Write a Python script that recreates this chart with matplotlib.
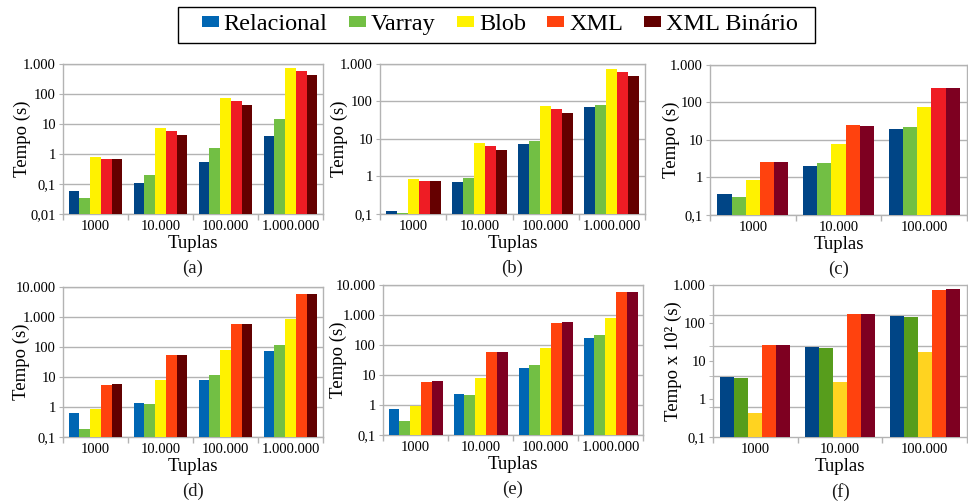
import matplotlib
matplotlib.use("Agg")
import matplotlib.pyplot as plt
import numpy as np
from matplotlib.patches import Patch, Rectangle
from matplotlib.ticker import FixedLocator, FuncFormatter, NullFormatter

FONTE = ["Liberation Serif", "DejaVu Serif"]
plt.rcParams["font.family"] = FONTE
plt.rcParams["text.color"] = "#1a1a1a"

series = ["Relacional", "Varray", "Blob", "XML", "XML Binário"]
grupos4 = ["1000", "10.000", "100.000", "1.000.000"]
grupos3 = ["1000", "10.000", "100.000"]

# valores, uma linha por série (ordem de "series")
vals_a = [
    [0.058, 0.108, 0.54, 4.0],
    [0.035, 0.20, 1.58, 14.7],
    [0.79, 7.4, 73, 736],
    [0.68, 5.8, 58, 585],
    [0.68, 4.3, 43, 430],
]
vals_b = [
    [0.12, 0.71, 7.4, 71],
    [0.106, 0.91, 8.8, 81],
    [0.86, 7.8, 76, 735],
    [0.76, 6.5, 63, 612],
    [0.76, 5.1, 49, 479],
]
vals_c = [
    [0.36, 2.03, 19.6],
    [0.30, 2.44, 22.2],
    [0.86, 7.8, 76],
    [2.6, 25, 244],
    [2.6, 23.6, 244],
]
vals_d = [
    [0.65, 1.39, 8.1, 75],
    [0.18, 1.29, 12, 120],
    [0.88, 8.1, 81, 834],
    [5.5, 55, 566, 5900],
    [6.0, 55, 566, 5900],
]
vals_e = [
    [0.74, 2.33, 17, 167],
    [0.29, 2.15, 21.4, 210],
    [0.93, 7.9, 78, 774],
    [5.8, 57, 527, 5800],
    [6.3, 57, 570, 5800],
]
vals_f = [
    [3.74, 23.6, 149],
    [3.52, 22.2, 140],
    [0.44, 2.75, 17.4],
    [26.7, 169, 735],
    [26.7, 169, 782],
]

cores_a = ["#004586", "#72bf44", "#fff200", "#ee1c24", "#650000"]
cores_c = ["#004586", "#72bf44", "#fff200", "#ff420e", "#7e0021"]
cores_d = ["#0066b3", "#72bf44", "#fff200", "#ff420e", "#620000"]
cores_e = ["#0066b3", "#72bf44", "#fff200", "#ff420e", "#7e0021"]
cores_f = ["#004586", "#579d1c", "#ffd320", "#ff420e", "#7e0021"]
cores_legenda = ["#0066b3", "#72bf44", "#fff200", "#ff420e", "#620000"]


def fmt_br(v, pos):
    if v >= 1:
        return f"{int(round(v)):,}".replace(",", ".")
    return f"{v:g}".replace(".", ",")


def painel(pos, grupos, vals, cores, ylim, letra, ylab_x, ylabel="Tempo (s)",
           grade_estranha=False, cor_extra=None):
    ax = fig.add_axes(pos)
    n = len(grupos)
    x = np.arange(n)
    w = 0.166
    for i, v in enumerate(vals):
        c = [cores[i]] * n
        if cor_extra and i in cor_extra:
            for g, cc in cor_extra[i].items():
                c[g] = cc
        ax.bar(x + (i - 2) * w, v, w, color=c, zorder=3, linewidth=0)
    ax.set_yscale("log")
    ax.set_ylim(*ylim)
    ax.set_xlim(-0.5, n - 0.5)

    dec = 10.0 ** np.arange(np.log10(ylim[0]), np.log10(ylim[1]) + 0.5)
    ax.yaxis.set_major_locator(FixedLocator(dec))
    ax.yaxis.set_major_formatter(FuncFormatter(fmt_br))
    if grade_estranha:
        # o LibreOffice desenhou a grade fora das décadas neste painel
        k = np.log10(ylim[1] / ylim[0]) / 5
        linhas = ylim[0] * 10.0 ** (k * np.arange(6))
        ax.yaxis.set_minor_locator(FixedLocator(linhas))
        ax.grid(True, axis="y", which="minor", color="#b3b3b3", lw=1, zorder=0)
        ax.tick_params(axis="y", which="minor", length=3, color="#b3b3b3")
    else:
        ax.yaxis.set_minor_locator(FixedLocator([]))
        ax.grid(True, axis="y", which="major", color="#b3b3b3", lw=1, zorder=0)
    ax.yaxis.set_minor_formatter(NullFormatter())

    ax.xaxis.set_major_locator(FixedLocator(np.arange(n + 1) - 0.5))
    ax.xaxis.set_major_formatter(NullFormatter())
    ax.xaxis.set_minor_locator(FixedLocator(x))
    ax.set_xticklabels(grupos, minor=True)
    ax.tick_params(axis="x", which="major", length=4, color="#b3b3b3", width=1)
    ax.tick_params(axis="x", which="minor", length=0, pad=4, labelsize=10.5)
    ax.tick_params(axis="y", which="major", length=3, color="#b3b3b3",
                   labelsize=10.5, pad=2)
    for s in ax.spines.values():
        s.set_color("#b3b3b3")
        s.set_linewidth(1)

    ax.set_ylabel(ylabel, fontsize=13.5)
    ax.yaxis.set_label_coords(ylab_x, 0.5)
    ax.yaxis.label.set_va("center")
    ax.set_xlabel("Tuplas", fontsize=13.5)
    ax.xaxis.set_label_coords(0.5, -0.195)
    ax.xaxis.label.set_va("center")
    ax.text(0.5, -0.36, letra, transform=ax.transAxes, ha="center",
            va="center", fontsize=13.5)
    return ax


fig = plt.figure(figsize=(9.68, 5.03), dpi=100)

painel([0.0651, 0.5746, 0.2686, 0.2982], grupos4, vals_a, cores_a,
       (0.01, 1000), "(a)", -0.155)
painel([0.3926, 0.5746, 0.2738, 0.2982], grupos4, vals_b, cores_a,
       (0.1, 1000), "(b)", -0.155)
painel([0.7335, 0.5726, 0.2655, 0.2982], grupos3, vals_c, cores_c,
       (0.1, 1000), "(c)", -0.150, cor_extra={3: {2: "#ee1c24"}})
painel([0.0651, 0.1312, 0.2686, 0.2982], grupos4, vals_d, cores_d,
       (0.1, 10000), "(d)", -0.160)
painel([0.3957, 0.1352, 0.2686, 0.2982], grupos4, vals_e, cores_e,
       (0.1, 10000), "(e)", -0.172)
painel([0.7366, 0.1312, 0.2624, 0.3022], grupos3, vals_f, cores_f,
       (0.1, 1000), "(f)", -0.155, ylabel="Tempo x 10² (s)",
       grade_estranha=True)

handles = [Patch(facecolor=c, edgecolor="none", label=s)
           for c, s in zip(cores_legenda, series)]
leg = fig.legend(handles=handles, loc="center", bbox_to_anchor=(0.5165, 0.951),
                 ncol=5, prop={"size": 17.5}, frameon=False,
                 handlelength=0.7, handleheight=0.35, handletextpad=0.2,
                 columnspacing=0.88, borderpad=0.2, borderaxespad=0)
for t in leg.get_texts():
    t.set_color("black")

# moldura da legenda (mais folgada à esquerda, como no original)
fig.patches.append(Rectangle((178 / 968, 1 - 43 / 503), (815 - 178) / 968,
                             36 / 503, transform=fig.transFigure, fill=False,
                             edgecolor="black", linewidth=1))

fig.savefig("out.png", dpi=100)
